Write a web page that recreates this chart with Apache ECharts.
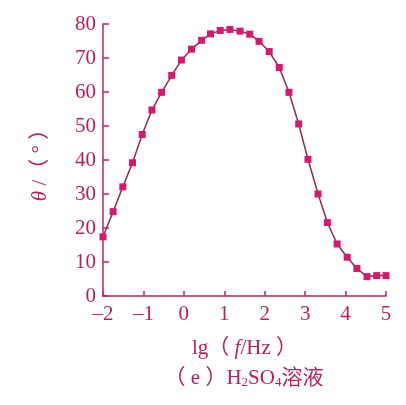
<!DOCTYPE html>
<html>
<head>
<meta charset="utf-8">
<script src="https://cdn.jsdelivr.net/npm/echarts@6/dist/echarts.min.js"></script>
<style>
    html, body { margin: 0; padding: 0; background: #fff; }
    #chart { width: 406px; height: 405px; }
</style>
</head>
<body>
<div id="chart"></div>
<script>
// lg(f/Hz) and phase angle
var lgF = [-2, -1.75, -1.51, -1.27, -1.03, -0.79, -0.55, -0.30, -0.06, 0.19, 0.44, 0.66, 0.90, 1.14, 1.39,
           1.63, 1.86, 2.11, 2.36, 2.60, 2.84, 3.07, 3.32, 3.55, 3.79, 4.04, 4.28, 4.53, 4.77, 5.0]
var theta = [17.4, 24.8, 32.1, 39.2, 47.5, 54.7, 59.9, 64.9, 69.4, 72.6, 75.2, 77.1, 78.1, 78.4, 77.9,
             77.0, 74.9, 71.9, 67.2, 59.9, 50.6, 40.2, 30.0, 21.6, 15.3, 11.4, 8.1, 5.7, 6.0, 6.0]
var xTicks = ['–2', '–1', '0', '1', '2', '3', '4', '5']

var textColor = '#b81f63'
var axisColor = '#c2206c'
var serif = 'Liberation Serif'

var points = lgF.map(function (x, i) { return [x, theta[i]] })

var chart = echarts.init(document.getElementById('chart'))
var option = {
    animation: false,
    grid: {
        left: 103,
        right: 20,
        top: 24,
        bottom: 109
    },
    title: {
        text: '（ e ）H{sub|2}SO{sub|4}溶液',
        left: 244,
        top: 367,
        textAlign: 'center',
        padding: 0,
        textStyle: {
            color: textColor,
            fontFamily: serif + ', Noto Sans CJK SC',
            fontSize: 21,
            fontWeight: 'normal',
            rich: {
                sub: {
                    color: textColor,
                    fontFamily: serif,
                    fontSize: 13,
                    verticalAlign: 'bottom',
                    padding: [9, 0, 0, 0]
                }
            }
        }
    },
    xAxis: {
        type: 'value',
        min: -2,
        max: 5,
        interval: 1,
        name: 'lg（ {i|f}/Hz ）',
        nameLocation: 'middle',
        nameGap: 42,
        nameTextStyle: {
            color: textColor,
            fontFamily: serif + ', Noto Sans CJK SC',
            fontSize: 21,
            rich: {
                i: { color: textColor, fontFamily: serif, fontSize: 21, fontStyle: 'italic' }
            }
        },
        axisLine: { show: true, onZero: false, lineStyle: { color: axisColor, width: 1.5 } },
        axisTick: { show: true, inside: true, length: 5, lineStyle: { color: axisColor, width: 1.5 } },
        splitLine: { show: false },
        axisLabel: {
            color: textColor,
            fontFamily: serif,
            fontSize: 21,
            margin: 8,
            formatter: function (v) { return xTicks[Math.round(v) + 2] }
        }
    },
    yAxis: {
        type: 'value',
        min: 0,
        max: 80,
        interval: 10,
        name: '{i|θ} /（ ° ）',
        nameLocation: 'middle',
        nameRotate: 90,
        nameGap: 52,
        nameTextStyle: {
            color: textColor,
            fontFamily: serif + ', Noto Sans CJK SC',
            fontSize: 21,
            rich: {
                i: { color: textColor, fontFamily: serif, fontSize: 21, fontStyle: 'italic' }
            }
        },
        axisLine: { show: true, onZero: false, lineStyle: { color: axisColor, width: 1.5 } },
        axisTick: { show: true, inside: true, length: 6, lineStyle: { color: axisColor, width: 1.5 } },
        splitLine: { show: false },
        axisLabel: {
            color: textColor,
            fontFamily: serif,
            fontSize: 21,
            margin: 7
        }
    },
    series: [{
        type: 'line',
        data: points,
        clip: false,
        symbol: 'rect',
        symbolSize: 7,
        itemStyle: { color: '#d8176f' },
        lineStyle: { color: '#8e2a57', width: 1.5 }
    }]
}
chart.setOption(option)
</script>
</body>
</html>
